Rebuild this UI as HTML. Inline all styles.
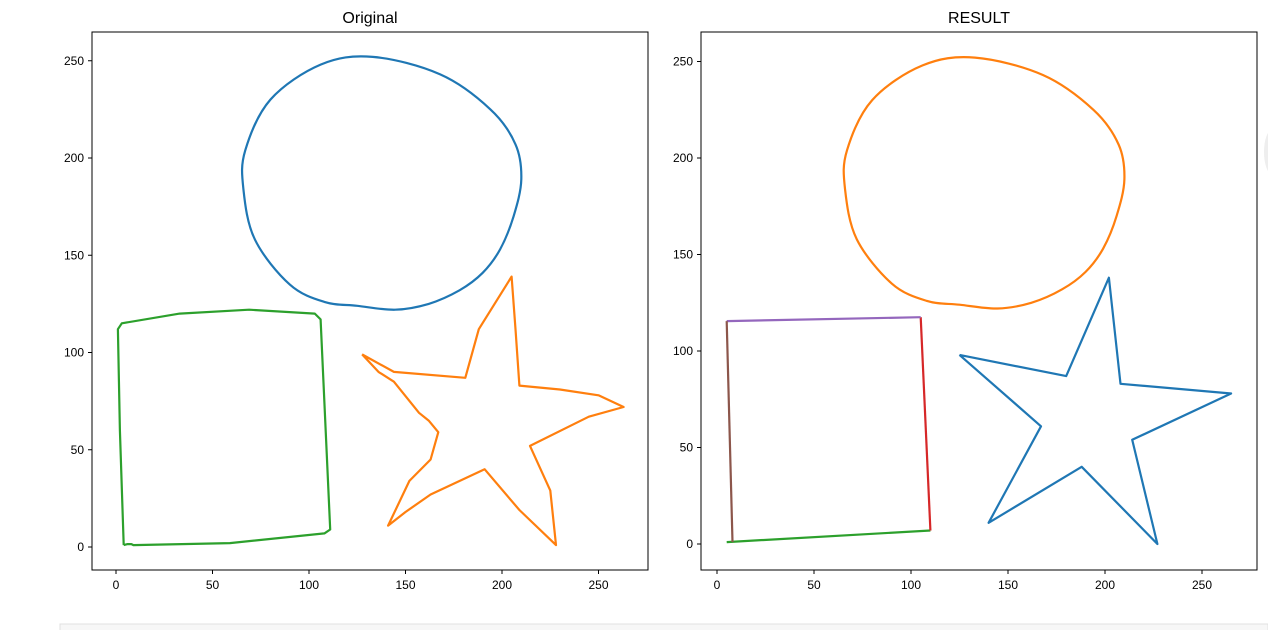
<!DOCTYPE html>
<html><head><meta charset="utf-8"><style>
body{margin:0;background:#fff;width:1268px;height:630px;overflow:hidden;font-family:"Liberation Sans","DejaVu Sans",sans-serif}
svg{position:absolute;left:0;top:0}
</style></head><body>
<svg width="1268" height="630">
<rect x="60" y="624" width="1208" height="8" fill="#f7f7f7" stroke="#e0e0e0"/>
<ellipse cx="1272" cy="152" rx="8" ry="22" fill="#eee"/>
<g id="root"></g>
</svg>
<script>
const xTicks=[0,50,100,150,200,250];
const yTicks=[0,50,100,150,200,250];
const circleL=[[108,126],[125,124],[144.6,122],[162,125],[178,132],[190,141],[199,153],[206,170],[210,189],[207,207],[194,225],[168,243],[133,252],[106,248],[80,230],[67,204],[66,184],[72,158],[90,135],[108,126]];
const squareL=[[4,1],[2,60],[1,112],[3,115],[33,120],[69,122],[103,120],[106,117],[111,9],[108,7],[59,2],[9,1],[8,1.5],[6,1.5],[4,1]];
const starL=[[127.5,99],[136,90],[144,85],[157,69],[162,65],[167,59],[163,45],[152,34],[141,11],[150,18],[163,27],[191,40],[209,19],[228,1],[225,29],[214.5,52],[245,67],[263,72],[250,78],[230,81],[209,83],[207,112],[205,139],[188,112],[181,87],[144,90],[127.5,99]];
const circleR=circleL;
const starR=[[125,98],[180,87],[202,138],[208,83],[265,78],[214,54],[227,0],[188,40],[140,11],[167,61],[125,98]];
const sqTop=[[5,115.5],[105,117.5]];
const sqRight=[[105,117.5],[110,7]];
const sqBottom=[[5,1],[110,7]];
const sqLeft=[[5,115.5],[8,1]];

const NS="http://www.w3.org/2000/svg";
const root=document.getElementById('root');
function mk(t,a,p){const e=document.createElementNS(NS,t);for(const k in a)e.setAttribute(k,a[k]);(p||root).appendChild(e);return e;}
function panel(name,title,fx,x0,xs,y0,ys){
  const g=mk('g',{});
  
  
  const sx=v=>x0+v*xs, sy=v=>y0-v*ys;
  const fr=mk('rect',{x:fx,y:32,width:556,height:538,fill:'none',stroke:'#000','stroke-width':1},g);
  
  
  const t=mk('text',{x:fx+278,y:23,'text-anchor':'middle','font-size':16},g);t.textContent=title;
  
  
  xTicks.forEach(v=>{const x=sx(v);mk('line',{x1:x,x2:x,y1:570,y2:574,stroke:'#000'},g);
    const l=mk('text',{x:x,y:589,'text-anchor':'middle','font-size':12},g);l.textContent=v;
    
    });
  yTicks.forEach(v=>{const y=sy(v);mk('line',{x1:fx-4,x2:fx,y1:y,y2:y,stroke:'#000'},g);
    const l=mk('text',{x:fx-8,y:y+4,'text-anchor':'end','font-size':12},g);l.textContent=v;
    
    });
  return {g,sx,sy};
}
function line(P,pts,col,name,smooth){
  const q=pts.map(p=>[P.sx(p[0]),P.sy(p[1])]);
  let d='M'+q[0][0].toFixed(1)+','+q[0][1].toFixed(1);
  if(smooth){
    const closed=true;
    for(let i=0;i<q.length-1;i++){
      const p0=q[i>0?i-1:q.length-2],p1=q[i],p2=q[i+1],p3=q[i+2<q.length?i+2:1];
      const c1=[p1[0]+(p2[0]-p0[0])/6,p1[1]+(p2[1]-p0[1])/6];
      const c2=[p2[0]-(p3[0]-p1[0])/6,p2[1]-(p3[1]-p1[1])/6];
      d+='C'+c1[0].toFixed(1)+','+c1[1].toFixed(1)+' '+c2[0].toFixed(1)+','+c2[1].toFixed(1)+' '+p2[0].toFixed(1)+','+p2[1].toFixed(1);
    }
  } else {
    for(let i=1;i<q.length;i++)d+='L'+q[i][0].toFixed(1)+','+q[i][1].toFixed(1);
  }
  const e=mk('path',{d:d,fill:'none',stroke:col,'stroke-width':2.2,'stroke-linejoin':'round'},P.g);
  
  
}
const L=panel('original','Original',92,116,1.93,547,1.945);
line(L,circleL,'#1f77b4','circle-original',true);
line(L,starL,'#ff7f0e','star-original',false);
line(L,squareL,'#2ca02c','square-original',false);
const R=panel('result','RESULT',701,717,1.94,544,1.93);
line(R,starR,'#1f77b4','star-result',false);
line(R,circleR,'#ff7f0e','circle-result',true);
line(R,sqBottom,'#2ca02c','square-bottom-result',false);
line(R,sqRight,'#d62728','square-right-result',false);
line(R,sqTop,'#9467bd','square-top-result',false);
line(R,sqLeft,'#8c564b','square-left-result',false);
</script>
</body></html>
